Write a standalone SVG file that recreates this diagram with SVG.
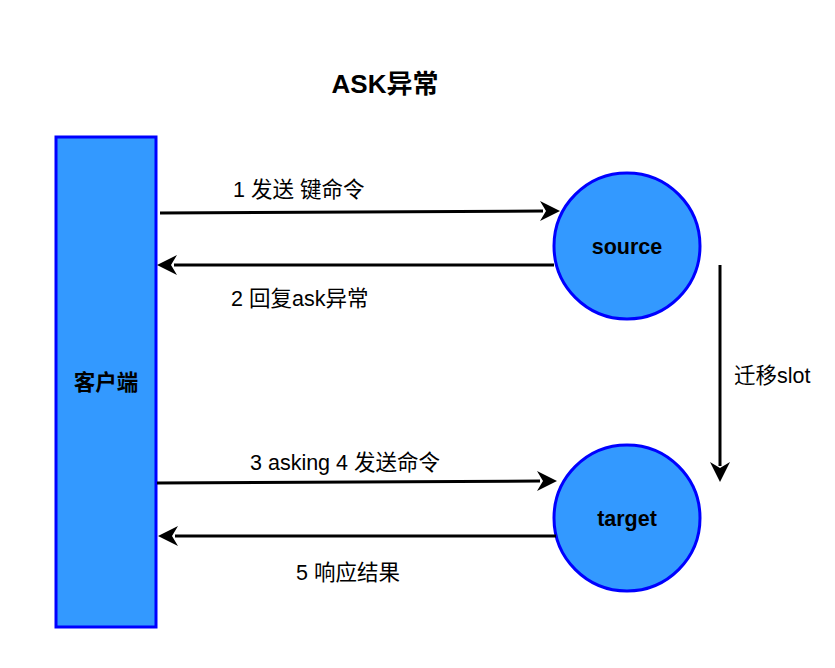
<svg xmlns="http://www.w3.org/2000/svg" width="835" height="668" viewBox="0 0 835 668">
<style>
.node{fill:#3399FF;stroke:#0000FF;stroke-width:3}
.lbl{font-family:"Liberation Sans","Noto Sans CJK SC",sans-serif;font-size:21.5px;fill:#000}
.b{font-weight:bold}
.conn{stroke:#000;stroke-width:3;fill:none}
.head{fill:#000}
</style>
<rect width="835" height="668" fill="#fff"/>
<text class="lbl b" x="385" y="93" text-anchor="middle" style="font-size:26px">ASK异常</text>
<g id="client">
<rect class="node" x="56" y="137" width="100" height="490"/>
<text class="lbl b" x="106" y="390" text-anchor="middle">客户端</text>
</g>
<g id="source">
<circle class="node" cx="627" cy="246" r="73"/>
<text class="lbl b" x="627" y="254" text-anchor="middle">source</text>
</g>
<g id="target">
<circle class="node" cx="627" cy="518" r="73"/>
<text class="lbl b" x="627" y="526" text-anchor="middle">target</text>
</g>
<g id="connectors">
<path class="conn" d="M160,213 L543,211"/>
<path class="head" d="M560,211 L540,201 L546,211 L540,221 Z"/>
<path class="conn" d="M554,265 L174,265"/>
<path class="head" d="M157,265 L177,255 L171,265 L177,275 Z"/>
<path class="conn" d="M157,483 L540,481"/>
<path class="head" d="M557,481 L537,471 L543,481 L537,491 Z"/>
<path class="conn" d="M556,536 L175,536"/>
<path class="head" d="M158,536 L178,526 L172,536 L178,546 Z"/>
<path class="conn" d="M720,265 L720,466"/>
<path class="head" d="M720,482 L710,462 L720,468 L730,462 Z"/>
<text class="lbl" x="233" y="197">1 发送 键命令</text>
<text class="lbl" x="231" y="306">2 回复ask异常</text>
<text class="lbl" x="734" y="383">迁移slot</text>
<text class="lbl" x="250" y="470">3 asking 4 发送命令</text>
<text class="lbl" x="296" y="580">5 响应结果</text>
</g>
</svg>
